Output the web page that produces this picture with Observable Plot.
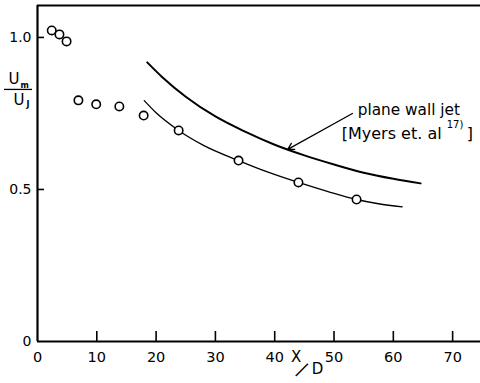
<!DOCTYPE html>
<html>
<head>
<meta charset="utf-8">
<script src="https://cdn.jsdelivr.net/npm/d3@7"></script>
<script src="https://cdn.jsdelivr.net/npm/@observablehq/plot@0.6"></script>
<style>
  html, body { margin: 0; padding: 0; background: #fff; }
  svg { display: block; }
</style>
</head>
<body>
<div id="chart"></div>
<script>
// Measured points (U_m/U_J vs X/D)
const pointX = [2.4, 3.7, 4.9, 6.9, 9.9, 13.8, 17.9, 23.8, 33.9, 44.0, 53.8];
const pointY = [1.023, 1.01, 0.987, 0.793, 0.78, 0.773, 0.743, 0.694, 0.595, 0.523, 0.467];

// Fitted curve through measurements (lower line)
const fitX = [18.0, 20.0, 23.8, 28.0, 33.9, 39.0, 44.0, 49.0, 53.8, 57.5, 61.5];
const fitY = [0.792, 0.752, 0.694, 0.645, 0.595, 0.556, 0.523, 0.493, 0.467, 0.453, 0.443];

// Plane wall jet, Myers et al. (upper line)
const wallX = [18.5, 21.0, 25.0, 30.0, 35.0, 40.0, 45.0, 50.0, 55.0, 60.0, 64.6];
const wallY = [0.918, 0.87, 0.805, 0.74, 0.69, 0.647, 0.612, 0.582, 0.555, 0.535, 0.52];

// Axis ticks
const xTicks = [0, 10, 20, 30, 40, 50, 60, 70];
const yTicks = [0, 0.5, 1.0];
const yTickLabels = ["0", "0.5", "1.0"];

// Annotation (arrow from label to upper curve)
const arrowFrom = [53.1, 0.75];
const arrowTo = [42.2, 0.632];
const noteLine1 = "plane wall jet";
const noteLine2 = "[Myers et. al";
const noteSup = "17)";
const noteClose = "]";

// y-axis label: fraction U_m / U_J
const yLabelNum = ["U", "m"];
const yLabelDen = ["U", "J"];
const yLabelAt = 0.829;

const xMax = 74.7, yMax = 1.105;

const points = pointX.map((x, i) => ({x, y: pointY[i]}));
const fit = fitX.map((x, i) => ({x, y: fitY[i]}));
const wall = wallX.map((x, i) => ({x, y: wallY[i]}));

const font = "DejaVu Sans, sans-serif";

const chart = Plot.plot({
  width: 480,
  height: 383,
  marginLeft: 37,
  marginRight: 0,
  marginTop: 5,
  marginBottom: 42,
  x: {domain: [0, xMax]},
  y: {domain: [0, yMax]},
  style: {fontFamily: font, fontSize: "14px", background: "#fff", color: "#000"},
  marks: [
    Plot.axisX(xTicks, {tickSize: 0, tickPadding: 10, fontSize: 14.5, tickFormat: d => String(d), label: null}),
    Plot.tickX(xTicks.slice(1), {x: d => d, insetTop: 326, stroke: "#000", strokeWidth: 1.6}),
    Plot.axisY(yTicks, {tickSize: 0, tickPadding: 6, fontSize: 14, tickFormat: (d, i) => yTickLabels[i], label: null}),
    Plot.tickY(yTicks.slice(1), {y: d => d, insetRight: 436, stroke: "#000", strokeWidth: 1.6}),
    // frame: left, bottom, top
    Plot.ruleX([0], {stroke: "#000", strokeWidth: 2.2}),
    Plot.ruleY([0], {stroke: "#000", strokeWidth: 2.2}),
    Plot.ruleY([yMax], {stroke: "#000", strokeWidth: 2.2}),
    // curves
    Plot.line(wall, {x: "x", y: "y", curve: "monotone-x", stroke: "#000", strokeWidth: 2}),
    Plot.line(fit, {x: "x", y: "y", curve: "monotone-x", stroke: "#000", strokeWidth: 1.3}),
    Plot.dot(points, {x: "x", y: "y", r: 4.2, stroke: "#000", strokeWidth: 1.6, fill: "#fff"}),
    // annotation
    Plot.arrow([{x1: arrowFrom[0], y1: arrowFrom[1], x2: arrowTo[0], y2: arrowTo[1]}],
      {x1: "x1", y1: "y1", x2: "x2", y2: "y2", stroke: "#000", strokeWidth: 1.3, headLength: 8, bend: 0}),
    Plot.text([noteLine1], {x: arrowFrom[0] + 0.9, y: 0.762, text: d => d, textAnchor: "start", fontSize: 15.3}),
    Plot.text([noteLine2], {x: 51.3, y: 0.684, text: d => d, textAnchor: "start", fontSize: 16}),
    Plot.text([noteSup], {x: 69.0, y: 0.713, text: d => d, textAnchor: "start", fontSize: 10}),
    Plot.text([noteClose], {x: 72.4, y: 0.684, text: d => d, textAnchor: "start", fontSize: 16}),
    // y label U_m / U_J
    Plot.text([yLabelNum[0]], {y: yLabelAt, frameAnchor: "left", dx: -29, dy: -10, text: d => d, fontSize: 15}),
    Plot.text([yLabelNum[1]], {y: yLabelAt, frameAnchor: "left", dx: -17, dy: -4, text: d => d, textAnchor: "start", fontSize: 8, fontWeight: "bold"}),
    Plot.ruleY([yLabelAt], {insetLeft: -33, insetRight: 448, stroke: "#000", strokeWidth: 1.3}),
    Plot.text([yLabelDen[0]], {y: yLabelAt, frameAnchor: "left", dx: -24, dy: 11, text: d => d, fontSize: 15}),
    Plot.text([yLabelDen[1]], {y: yLabelAt, frameAnchor: "left", dx: -11, dy: 15, text: d => d, textAnchor: "start", fontSize: 8, fontWeight: "bold"}),
    // x label X/D
    Plot.text(["X"], {x: 43.6, frameAnchor: "bottom", dy: 20, text: d => d, fontSize: 15}),
    Plot.text(["—"], {x: 45.2, frameAnchor: "bottom", dy: 32, rotate: -45, text: d => d, fontSize: 19}),
    Plot.text(["D"], {x: 47.2, frameAnchor: "bottom", dy: 32, text: d => d, fontSize: 15})
  ]
});

document.getElementById("chart").append(chart);
</script>
</body>
</html>
